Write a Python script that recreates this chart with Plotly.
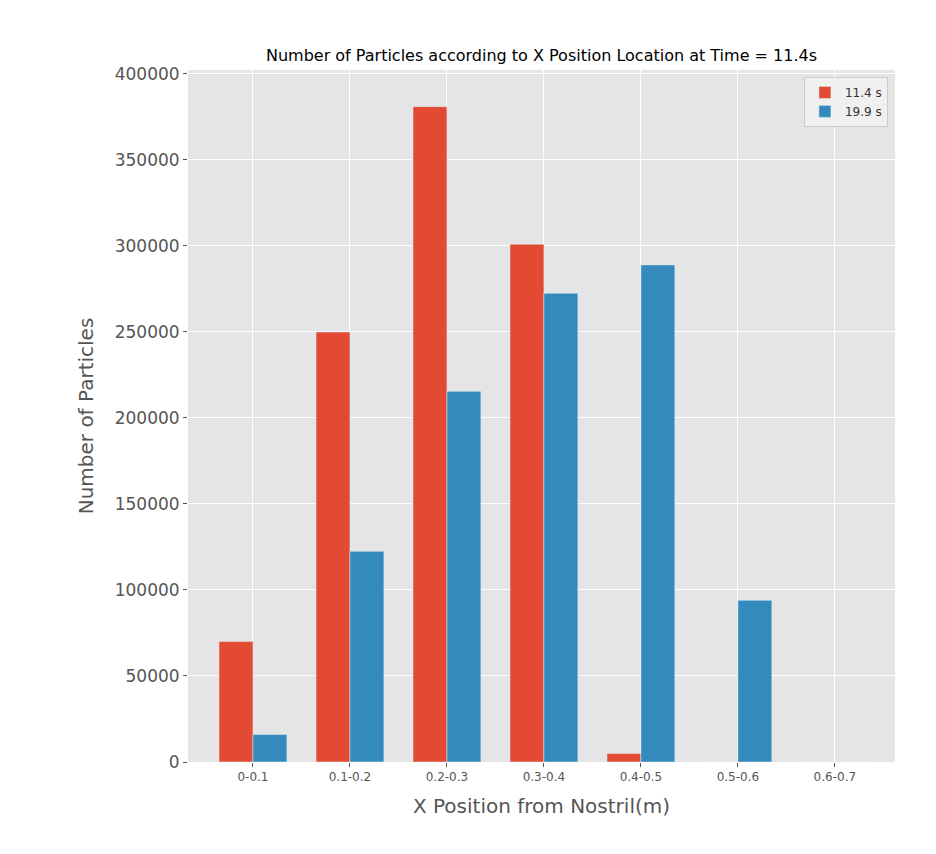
import plotly.graph_objects as go

categories = ["0-0.1", "0.1-0.2", "0.2-0.3", "0.3-0.4", "0.4-0.5", "0.5-0.6", "0.6-0.7"]
s114 = [70000, 250000, 381000, 301000, 5000, 0, 0]
s199 = [16000, 122500, 215500, 272500, 289000, 94000, 0]

fig = go.Figure()
fig.add_bar(x=categories, y=s114, name="11.4 s", marker_color="#E24A33")
fig.add_bar(x=categories, y=s199, name="19.9 s", marker_color="#348ABD")
fig.update_layout(
    width=936, height=854, barmode="group", bargap=0.3, bargroupgap=0,
    paper_bgcolor="white", plot_bgcolor="#E5E5E5",
    margin=dict(l=180, r=49, t=62, b=100),
    font=dict(family="DejaVu Sans", color="#555555"),
    title=dict(text="Number of Particles according to X Position Location at Time = 11.4s",
               x=0.5, xanchor="center", xref="paper", y=1 - 47/854, yanchor="middle",
               font=dict(size=16, color="black")),
    legend=dict(x=0.99, y=0.99, xanchor="right", yanchor="top", bgcolor="#F0F0F0",
                bordercolor="#CCCCCC", borderwidth=1, font=dict(size=12, color="#333333")),
    xaxis=dict(range=[-0.67, 6.62], showgrid=True, gridcolor="white", gridwidth=1.2,
               tickfont=dict(size=12), ticks="outside", ticklen=4, tickcolor="#555555",
               title=dict(text="X Position from Nostril(m)", font=dict(size=20))),
    yaxis=dict(range=[0, 402300], dtick=50000, showgrid=True, gridcolor="white", gridwidth=1.2,
               tickfont=dict(size=17), ticks="outside", ticklen=4, tickcolor="#555555",
               zeroline=False, tickformat="d",
               title=dict(text="Number of Particles", font=dict(size=20))),
)
fig.write_html("out.html")
